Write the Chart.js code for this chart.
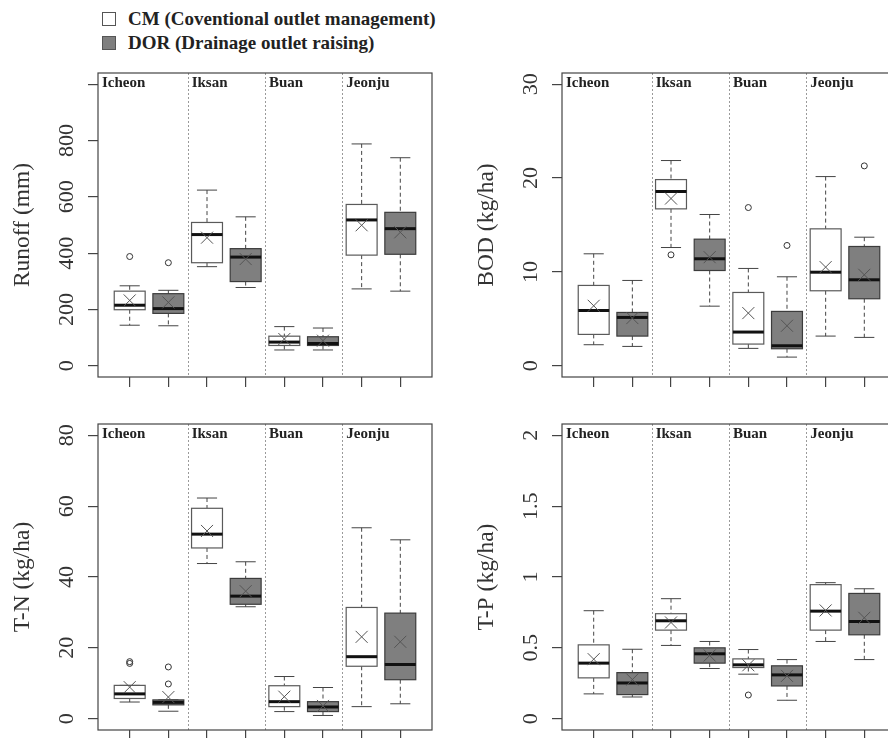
<!DOCTYPE html>
<html>
<head>
<meta charset="utf-8">
<script src="https://cdn.jsdelivr.net/npm/chart.js@4.4.1/dist/chart.umd.min.js"></script>
<style>
  body { margin: 0; width: 888px; height: 738px; overflow: hidden; background: #fff; position: relative; }
  canvas { position: absolute; }
  .sq { position: absolute; left: 102px; width: 12px; height: 12px; border: 1px solid #555; }
  .leg { position: absolute; left: 128px; font: bold 19px/19px "Liberation Serif", serif; color: #222; white-space: nowrap; }
</style>
</head>
<body>
<div class="sq" style="top:12px;background:#fff"></div>
<div class="leg" style="top:9px">CM (Coventional outlet management)</div>
<div class="sq" style="top:36px;background:#7f7f7f"></div>
<div class="leg" style="top:33px">DOR (Drainage outlet raising)</div>

<canvas id="runoff" width="444" height="350" style="left:0;top:60px"></canvas>
<canvas id="bod" width="444" height="350" style="left:464px;top:60px"></canvas>
<canvas id="tn" width="444" height="352" style="left:0;top:411px"></canvas>
<canvas id="tp" width="444" height="352" style="left:464px;top:411px"></canvas>

<script>
const regions = ["Icheon", "Iksan", "Buan", "Jeonju"];
// box order: Icheon CM, Icheon DOR, Iksan CM, Iksan DOR, Buan CM, Buan DOR, Jeonju CM, Jeonju DOR
const groups = ["CM", "DOR"];

const runoffMin = [144, 142, 352, 278, 56, 56, 273, 265];
const runoffQ1 = [199, 186, 366, 299, 72, 72, 393, 396];
const runoffMed = [215, 203, 466, 386, 84, 79, 518, 487];
const runoffQ3 = [265, 256, 509, 416, 105, 103, 573, 545];
const runoffMax = [284, 268, 624, 529, 139, 134, 788, 739];
const runoffMean = [232, 225, 455, 379, 95, 89, 499, 474];
const runoffOut = [[388], [366], [], [], [], [], [], []];
const runoffTicks = [0, 200, 400, 600, 800, 1000];
const runoffTickLabels = ["0", "200", "400", "600", "800", ""];

const bodMin = [2.24, 2.06, 12.6, 6.35, 1.85, 0.92, 3.16, 3.02];
const bodQ1 = [3.34, 3.16, 16.72, 10.15, 2.31, 1.81, 7.99, 7.14];
const bodMed = [5.89, 5.15, 18.57, 11.4, 3.59, 2.13, 9.97, 9.16];
const bodQ3 = [8.56, 5.68, 19.84, 13.49, 7.81, 5.79, 14.59, 12.71];
const bodMax = [11.93, 9.09, 21.87, 16.12, 10.37, 9.48, 20.16, 13.7];
const bodMean = [6.39, 5.08, 17.82, 11.57, 5.61, 4.26, 10.51, 9.69];
const bodOut = [[], [], [11.82], [], [16.86], [12.82], [], [21.3]];
const bodTicks = [0, 10, 20, 30];
const bodTickLabels = ["0", "10", "20", "30"];

const tnMin = [4.7, 2.1, 43.8, 31.6, 2.0, 0.9, 3.4, 4.2];
const tnQ1 = [5.7, 3.9, 48.2, 32.3, 3.4, 2.0, 14.8, 11.0];
const tnMed = [7.0, 4.6, 52.1, 34.6, 4.8, 3.3, 17.5, 15.3];
const tnQ3 = [9.4, 5.3, 59.4, 39.6, 9.3, 4.8, 31.4, 29.8];
const tnMax = [9.4, 5.3, 62.3, 44.3, 11.9, 8.8, 53.9, 50.5];
const tnMean = [8.9, 6.1, 53.0, 36.0, 6.2, 3.6, 23.1, 21.7];
const tnOut = [[16.1, 15.6], [14.6, 9.8], [], [], [], [], [], []];
const tnTicks = [0, 20, 40, 60, 80];
const tnTickLabels = ["0", "20", "40", "60", "80"];

const tpMin = [0.175, 0.153, 0.517, 0.354, 0.314, 0.13, 0.545, 0.417];
const tpQ1 = [0.288, 0.17, 0.625, 0.392, 0.361, 0.231, 0.625, 0.592];
const tpMed = [0.392, 0.252, 0.691, 0.458, 0.38, 0.309, 0.759, 0.686];
const tpQ3 = [0.521, 0.325, 0.741, 0.5, 0.422, 0.373, 0.946, 0.884];
const tpMax = [0.762, 0.49, 0.847, 0.545, 0.488, 0.417, 0.96, 0.917];
const tpMean = [0.42, 0.276, 0.679, 0.446, 0.377, 0.302, 0.764, 0.712];
const tpOut = [[], [], [], [], [0.167], [], [], []];
const tpTicks = [0, 0.5, 1, 1.5, 2];
const tpTickLabels = ["0", "0.5", "1", "1.5", "2"];

const serif = "'Liberation Serif', 'Times New Roman', serif";

function line(ctx, x1, y1, x2, y2) {
  ctx.beginPath();
  ctx.moveTo(x1, y1);
  ctx.lineTo(x2, y2);
  ctx.stroke();
}

function makePanel(id, title, ymin, ymax, ticks, tickLabels, st) {
  const boxPlugin = {
    id: "boxes",
    beforeDatasetsDraw(chart) {
      const { ctx, chartArea: a, scales: { x, y } } = chart;
      ctx.save();
      // dotted region separators
      ctx.strokeStyle = "#9a9a9a";
      ctx.lineWidth = 1;
      ctx.setLineDash([2, 2]);
      [2.5, 4.5, 6.5].forEach((v) => {
        const px = Math.round(x.getPixelForValue(v)) + 0.5;
        line(ctx, px, a.top, px, a.bottom);
      });
      st.med.forEach((m, i) => {
        const cx = x.getPixelForValue(i + 1);
        const half = x.getPixelForValue(i + 1.4) - cx;
        const cap = x.getPixelForValue(i + 1.26) - cx;
        const yMin = y.getPixelForValue(st.min[i]);
        const yQ1 = y.getPixelForValue(st.q1[i]);
        const yMed = y.getPixelForValue(m);
        const yQ3 = y.getPixelForValue(st.q3[i]);
        const yMax = y.getPixelForValue(st.max[i]);
        ctx.strokeStyle = "#444";
        ctx.lineWidth = 1;
        ctx.setLineDash([4, 3]);
        line(ctx, cx, yMax, cx, yQ3);
        line(ctx, cx, yQ1, cx, yMin);
        ctx.setLineDash([]);
        line(ctx, cx - cap, yMax, cx + cap, yMax);
        line(ctx, cx - cap, yMin, cx + cap, yMin);
        ctx.fillStyle = i % 2 ? "#7f7f7f" : "#ffffff";
        ctx.fillRect(cx - half, yQ3, 2 * half, yQ1 - yQ3);
        ctx.strokeStyle = i % 2 ? "#3c3c3c" : "#5a5a5a";
        ctx.lineWidth = 1.2;
        ctx.strokeRect(cx - half, yQ3, 2 * half, yQ1 - yQ3);
        ctx.strokeStyle = "#111";
        ctx.lineWidth = 3;
        line(ctx, cx - half, yMed, cx + half, yMed);
      });
      ctx.restore();
    },
    afterDraw(chart) {
      const { ctx, chartArea: a, scales: { x, y } } = chart;
      ctx.save();
      ctx.strokeStyle = "#444";
      ctx.lineWidth = 1.2;
      ctx.strokeRect(a.left, a.top, a.right - a.left, a.bottom - a.top);
      // y tick labels, rotated like base R
      ctx.fillStyle = "#333";
      ctx.font = "22px " + serif;
      ctx.textAlign = "center";
      ctx.textBaseline = "middle";
      ticks.forEach((t, k) => {
        if (!tickLabels[k]) return;
        ctx.save();
        ctx.translate(a.left - 31, y.getPixelForValue(t));
        ctx.rotate(-Math.PI / 2);
        ctx.fillText(tickLabels[k], 0, 0);
        ctx.restore();
      });
      // region names
      ctx.fillStyle = "#222";
      ctx.font = "bold 15px " + serif;
      ctx.textAlign = "left";
      ctx.textBaseline = "alphabetic";
      regions.forEach((r, k) => {
        const start = k === 0 ? a.left : x.getPixelForValue(2 * k + 0.5);
        ctx.fillText(r, start + 4, a.top + 14);
      });
      ctx.restore();
    },
  };

  const meanPts = st.mean.map((v, i) => ({ x: i + 1, y: v }));
  const outPts = [];
  st.out.forEach((arr, i) => arr.forEach((v) => outPts.push({ x: i + 1, y: v })));

  new Chart(document.getElementById(id), {
    type: "scatter",
    data: {
      datasets: [
        {
          label: "mean",
          data: meanPts,
          pointStyle: "crossRot",
          pointRadius: 8.5,
          borderColor: "#555",
          borderWidth: 1,
        },
        {
          label: "outlier",
          data: outPts,
          pointStyle: "circle",
          pointRadius: 3,
          borderColor: "#333",
          backgroundColor: "rgba(0,0,0,0)",
          borderWidth: 1,
        },
      ],
    },
    options: {
      responsive: false,
      animation: false,
      events: [],
      layout: { padding: { top: 13, right: 12, left: 0, bottom: 0 } },
      plugins: { legend: { display: false }, tooltip: { enabled: false } },
      scales: {
        x: {
          type: "linear",
          min: 0.18,
          max: 8.82,
          afterBuildTicks: (s) => { s.ticks = st.med.map((m, i) => ({ value: i + 1 })); },
          afterFit: (s) => { s.height = 33; },
          ticks: { display: false },
          border: { display: false },
          grid: { drawOnChartArea: false, tickLength: 10, color: "#444", lineWidth: 1.2 },
        },
        y: {
          min: ymin,
          max: ymax,
          afterBuildTicks: (s) => { s.ticks = ticks.map((v) => ({ value: v })); },
          afterFit: (s) => { s.width = 98; },
          ticks: { display: false },
          border: { display: false },
          grid: { drawOnChartArea: false, tickLength: 10, color: "#444", lineWidth: 1.2 },
          title: {
            display: true,
            text: title,
            color: "#333",
            font: { family: serif, size: 23.5 },
            padding: { top: 9, bottom: 0 },
          },
        },
      },
    },
    plugins: [boxPlugin],
  });
}

makePanel("runoff", "Runoff (mm)", -40, 1040, runoffTicks, runoffTickLabels, {
  min: runoffMin, q1: runoffQ1, med: runoffMed, q3: runoffQ3, max: runoffMax, mean: runoffMean, out: runoffOut,
});
makePanel("bod", "BOD (kg/ha)", -1.2, 31.2, bodTicks, bodTickLabels, {
  min: bodMin, q1: bodQ1, med: bodMed, q3: bodQ3, max: bodMax, mean: bodMean, out: bodOut,
});
makePanel("tn", "T-N (kg/ha)", -3.2, 83.2, tnTicks, tnTickLabels, {
  min: tnMin, q1: tnQ1, med: tnMed, q3: tnQ3, max: tnMax, mean: tnMean, out: tnOut,
});
makePanel("tp", "T-P (kg/ha)", -0.08, 2.08, tpTicks, tpTickLabels, {
  min: tpMin, q1: tpQ1, med: tpMed, q3: tpQ3, max: tpMax, mean: tpMean, out: tpOut,
});
</script>
</body>
</html>
